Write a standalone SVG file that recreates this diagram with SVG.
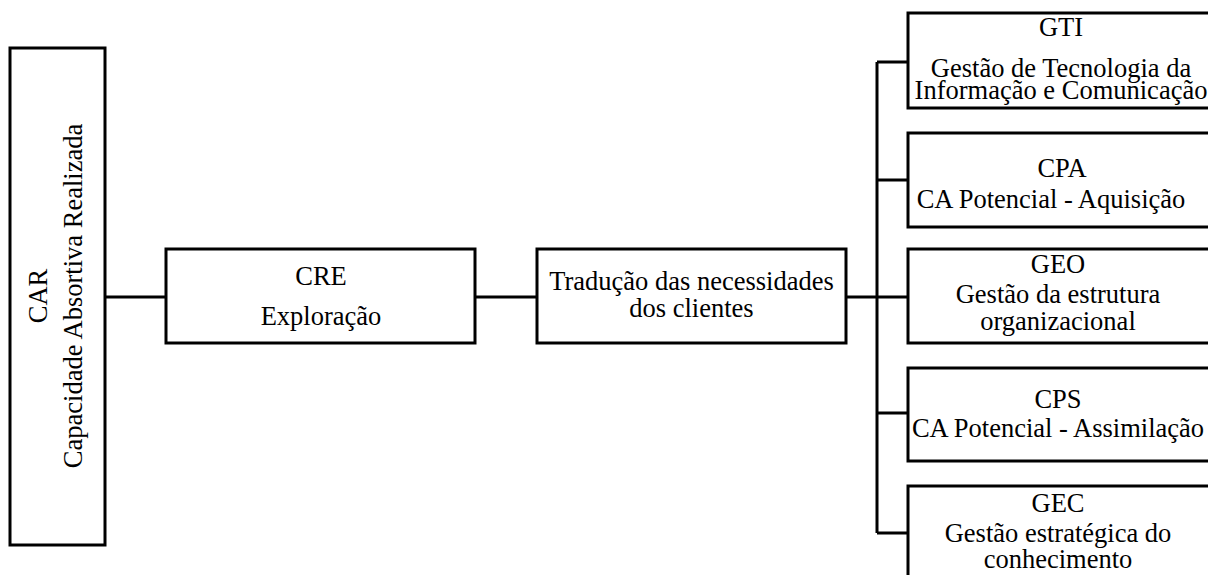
<svg xmlns="http://www.w3.org/2000/svg" width="1208" height="575" viewBox="0 0 1208 575">
<style>
.box{fill:#fff;stroke:#000;stroke-width:3}
.t{font-family:"Liberation Serif","Times New Roman",serif;font-size:26.5px;fill:#000;text-anchor:middle}
.c{fill:none;stroke:#000;stroke-width:3}
</style>
<rect width="1208" height="575" fill="#fff"/>
<g id="connectors">
<path class="c" d="M105 297H166"/>
<path class="c" d="M475 297H537"/>
<path class="c" d="M846 297H908"/>
<path class="c" d="M877 62V533"/>
<path class="c" d="M877 62H908M877 180H908M877 413H908M877 533H908"/>
</g>
<g id="CAR">
<rect class="box" x="10" y="48" width="95" height="497"/>
<text class="t" transform="translate(47,296) rotate(-90)">CAR</text>
<text class="t" transform="translate(82,296) rotate(-90)">Capacidade Absortiva Realizada</text>
</g>
<g id="CRE">
<rect class="box" x="166" y="249" width="309" height="94"/>
<text class="t" x="321" y="285">CRE</text>
<text class="t" x="321" y="325">Exploração</text>
</g>
<g id="TRAD">
<rect class="box" x="537" y="249" width="309" height="94"/>
<text class="t" x="691.5" y="290">Tradução das necessidades</text>
<text class="t" x="691.5" y="317">dos clientes</text>
</g>
<g id="GTI">
<rect class="box" x="908" y="13" width="306" height="95"/>
<text class="t" x="1061" y="36">GTI</text>
<text class="t" x="1061" y="77">Gestão de Tecnologia da</text>
<text class="t" x="1061" y="99">Informação e Comunicação</text>
</g>
<g id="CPA">
<rect class="box" x="908" y="133" width="306" height="94"/>
<text class="t" x="1062" y="177">CPA</text>
<text class="t" x="1051" y="208">CA Potencial - Aquisição</text>
</g>
<g id="GEO">
<rect class="box" x="908" y="249" width="306" height="94"/>
<text class="t" x="1058" y="273">GEO</text>
<text class="t" x="1058" y="303">Gestão da estrutura</text>
<text class="t" x="1058" y="330">organizacional</text>
</g>
<g id="CPS">
<rect class="box" x="908" y="368" width="306" height="93"/>
<text class="t" x="1058" y="408">CPS</text>
<text class="t" x="1058" y="437">CA Potencial - Assimilação</text>
</g>
<g id="GEC">
<rect class="box" x="908" y="486" width="306" height="100"/>
<text class="t" x="1058" y="512">GEC</text>
<text class="t" x="1058" y="542">Gestão estratégica do</text>
<text class="t" x="1058" y="568">conhecimento</text>
</g>
</svg>
